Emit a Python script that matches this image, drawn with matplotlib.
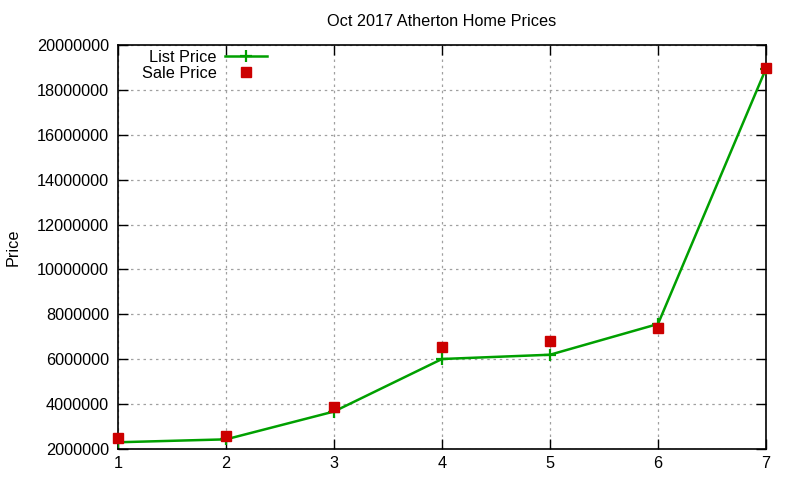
import matplotlib
matplotlib.use("Agg")
import matplotlib.pyplot as plt
from matplotlib.ticker import FormatStrFormatter, MultipleLocator

# Data
homes = [1, 2, 3, 4, 5, 6, 7]
list_price = [2300000, 2430000, 3670000, 6010000, 6200000, 7570000, 18950000]
sale_price = [2500000, 2600000, 3850000, 6560000, 6830000, 7400000, 18960000]

plt.rcParams['font.family'] = ['Liberation Sans', 'DejaVu Sans']
FS = 11.7

fig = plt.figure(figsize=(8, 4.8), dpi=100)
ax = fig.add_axes([118/800, 1-449/480, (766-118)/800, (449-45)/480])

ax.plot(homes, list_price, color='#00a000', lw=1.8, marker='+', ms=8, mew=1.6,
        label='List Price', zorder=3)
ax.plot(homes, sale_price, ls='none', marker='s', ms=6.5, color='#cc0000',
        mec='#cc0000', label='Sale Price', zorder=4, clip_on=False)

ax.set_xlim(1, 7)
ax.set_ylim(2000000, 20000000)
ax.xaxis.set_major_locator(MultipleLocator(1))
ax.yaxis.set_major_locator(MultipleLocator(2000000))
ax.yaxis.set_major_formatter(FormatStrFormatter('%d'))

ax.grid(True, color='#a0a0a0', ls=(0, (2, 3)), lw=0.9)
ax.tick_params(direction='in', length=7, width=1, top=True, right=True,
               labelsize=FS, colors='black')
ax.tick_params(axis='x', pad=5)
ax.tick_params(axis='y', pad=6.5)
for s in ax.spines.values():
    s.set_linewidth(1.2)

ax.set_title('Oct 2017 Atherton Home Prices', fontsize=FS, pad=14)
ax.set_ylabel('Price', fontsize=FS, labelpad=12)

leg = ax.legend(loc='upper left', bbox_to_anchor=(0.017, 1.02), frameon=False,
                markerfirst=False, fontsize=FS, handlelength=2.6,
                handletextpad=0.5, labelspacing=0.05, borderpad=0.3,
                numpoints=1)

fig.savefig('out.png', dpi=100)
